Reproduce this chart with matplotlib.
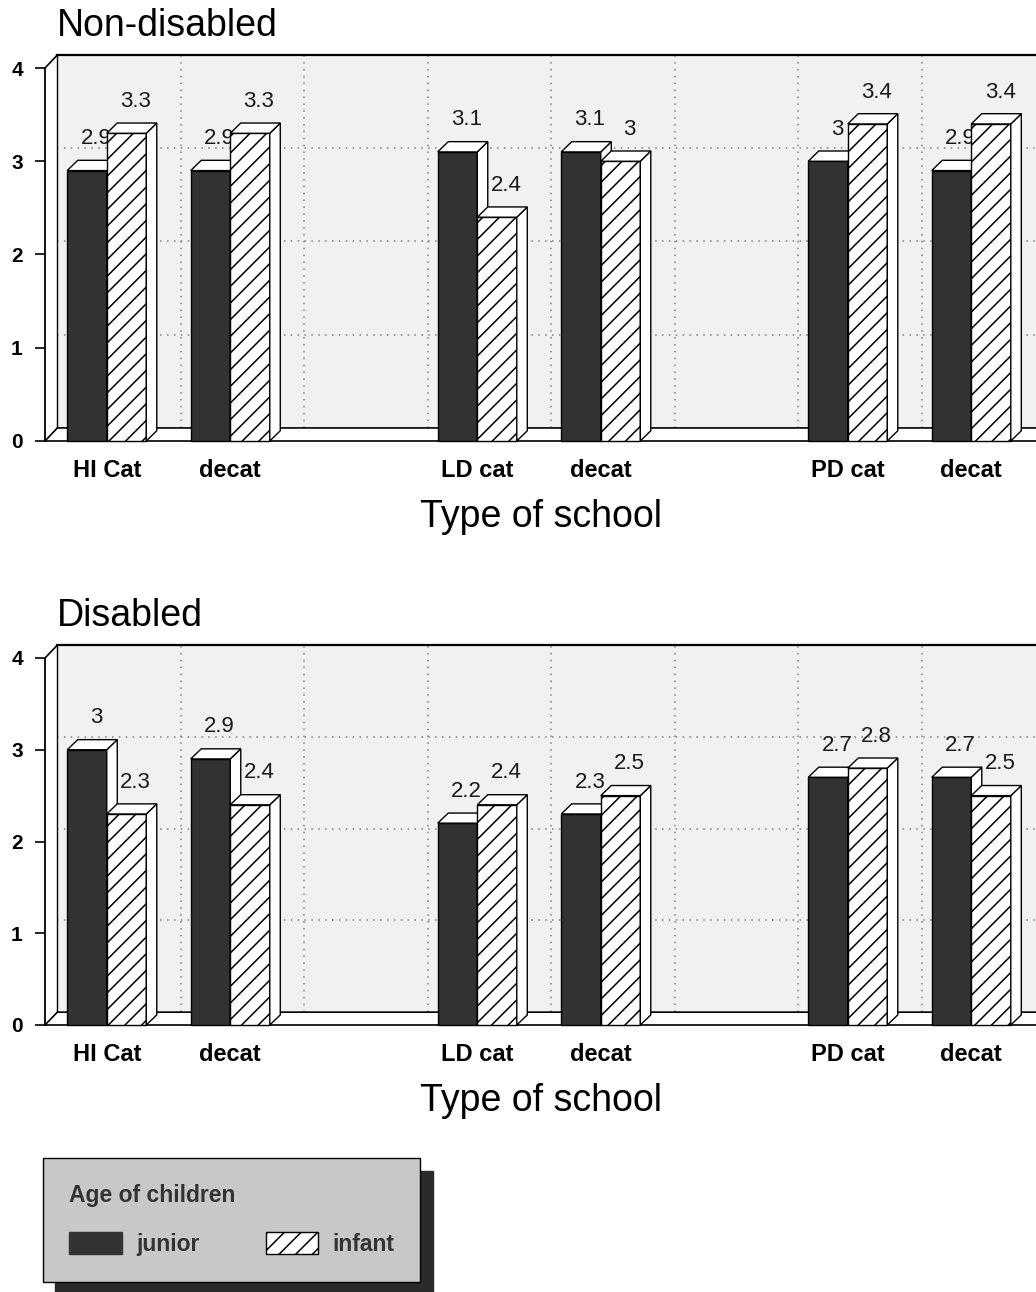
import matplotlib
matplotlib.use("Agg")
import matplotlib.pyplot as plt
from matplotlib.patches import Polygon, Rectangle, Patch
import numpy as np

plt.rcParams["font.family"] = ["Liberation Sans", "DejaVu Sans"]
plt.rcParams["hatch.linewidth"] = 1.1

# ---- data -------------------------------------------------------------
categories = ["HI Cat", "decat", "LD cat", "decat", "PD cat", "decat"]
positions = [0, 1, 3, 4, 6, 7]
series_names = ["junior", "infant"]
nondisabled_junior = [2.9, 2.9, 3.1, 3.1, 3.0, 2.9]
nondisabled_infant = [3.3, 3.3, 2.4, 3.0, 3.4, 3.4]
disabled_junior = [3.0, 2.9, 2.2, 2.3, 2.7, 2.7]
disabled_infant = [2.3, 2.4, 2.4, 2.5, 2.8, 2.5]
y_ticks = [0, 1, 2, 3, 4]
panel_titles = ["Non-disabled", "Disabled"]
x_title = "Type of school"
legend_title = "Age of children"

# ---- styling ----------------------------------------------------------
W, H = 1036, 1292
JUNIOR_COLOR = "#323232"
WALL_COLOR = "#f1f1f1"
BAR_W = 0.32
DEPTH_X, DEPTH_Y = 0.085, 0.11      # extrusion of each bar
WALL_X, WALL_Y = 0.10, 0.14         # offset of the back wall
X0, X1 = -0.5, 7.524
Y_TOP = 4.2
LEFT_PX = 45

fig = plt.figure(figsize=(W / 100, H / 100), dpi=100)


def add_box(ax, rect, z):
    """Top and right faces that give a bar its block look."""
    x, w, h = rect.get_x(), rect.get_width(), rect.get_height()
    top = Polygon([(x, h), (x + DEPTH_X, h + DEPTH_Y),
                   (x + w + DEPTH_X, h + DEPTH_Y), (x + w, h)],
                  closed=True, facecolor="white", edgecolor="black",
                  lw=1.0, zorder=z, clip_on=False)
    side = Polygon([(x + w, 0), (x + w + DEPTH_X, DEPTH_Y),
                    (x + w + DEPTH_X, h + DEPTH_Y), (x + w, h)],
                   closed=True, facecolor="white", edgecolor="black",
                   lw=1.0, zorder=z, clip_on=False)
    ax.add_patch(side)
    ax.add_patch(top)


def draw_panel(ax, junior, infant, title, zero_px, unit_px):
    ax.set_xlim(X0, X1)
    ax.set_ylim(0, Y_TOP)
    ax.patch.set_visible(False)
    for s in ("top", "right", "bottom"):
        ax.spines[s].set_visible(False)
    ax.spines["left"].set_bounds(0, 4)
    ax.spines["left"].set_linewidth(1.3)

    # back wall, left wall and floor
    ax.add_patch(Rectangle((X0 + WALL_X, WALL_Y), X1 - X0, 4,
                           facecolor=WALL_COLOR, edgecolor="none",
                           zorder=0, clip_on=False))
    ax.plot([X0 + WALL_X, X1 + 0.1], [4 + WALL_Y] * 2, color="black",
            lw=1.6, zorder=1, clip_on=False)
    ax.plot([X0, X0 + WALL_X], [4, 4 + WALL_Y], color="black", lw=1.2,
            zorder=1, clip_on=False)
    ax.plot([X0 + WALL_X] * 2, [WALL_Y, 4 + WALL_Y], color="black", lw=1.0,
            zorder=1, clip_on=False)
    for k in y_ticks[1:-1]:
        ax.plot([X0 + WALL_X, X1], [k + WALL_Y] * 2, color="#808080",
                lw=1.1, ls=(0, (1, 3.5)), zorder=0.5, clip_on=False)
    for m in np.arange(0.5, 7.0, 1.0):
        ax.plot([m + WALL_X] * 2, [WALL_Y, 4 + WALL_Y], color="#808080",
                lw=1.1, ls=(0, (1, 3.5)), zorder=0.5, clip_on=False)
    ax.add_patch(Polygon([(X0, 0), (X0 + WALL_X, WALL_Y), (X1 + 0.1, WALL_Y),
                          (X1 + 0.1, 0)], closed=True, facecolor="white",
                         edgecolor="black", lw=1.2, zorder=1, clip_on=False))

    pos = np.asarray(positions, dtype=float)
    jb = ax.bar(pos - BAR_W / 2, junior, BAR_W, color=JUNIOR_COLOR,
                edgecolor="black", lw=1.0, zorder=3, clip_on=False)
    for r in jb:
        add_box(ax, r, 3)
    ib = ax.bar(pos + BAR_W / 2, infant, BAR_W, facecolor="white",
                edgecolor="black", hatch="//", lw=1.0, zorder=5,
                clip_on=False)
    for r in ib:
        add_box(ax, r, 5)

    for bars, vals, z in ((jb, junior, 4), (ib, infant, 6)):
        for r, v in zip(bars, vals):
            ax.annotate(f"{v:g}", (r.get_x() + r.get_width() / 2, v),
                        xytext=(6.5, 23), textcoords="offset points",
                        ha="center", va="center", fontsize=16,
                        color="#1a1a1a", zorder=z)

    ax.set_yticks(y_ticks)
    ax.set_yticklabels([str(t) for t in y_ticks], fontsize=15,
                       fontweight="bold")
    ax.tick_params(axis="y", length=7, width=1.2, pad=9)
    ax.set_xticks(positions)
    ax.set_xticklabels(categories, fontsize=17, fontweight="bold")
    ax.tick_params(axis="x", length=0, pad=13)

    h_px = Y_TOP * unit_px
    ax.set_xlabel(x_title, fontsize=27)
    ax.xaxis.label.set_verticalalignment("center")
    ax.xaxis.set_label_coords(0.5, -76 / h_px)

    fig.text(57 / W, 1 - (zero_px - 4 * unit_px - 42) / H, title,
             fontsize=27, ha="left", va="center")


for (zero_px, unit_px), jun, inf, title in (
        ((441, 93.25), nondisabled_junior, nondisabled_infant, panel_titles[0]),
        ((1025, 91.75), disabled_junior, disabled_infant, panel_titles[1])):
    h_px = Y_TOP * unit_px
    ax = fig.add_axes([LEFT_PX / W, 1 - zero_px / H,
                       (W - LEFT_PX) / W, h_px / H])
    draw_panel(ax, jun, inf, title, zero_px, unit_px)

handles = [Patch(facecolor=JUNIOR_COLOR, edgecolor=JUNIOR_COLOR),
           Patch(facecolor="white", edgecolor="black", hatch="//")]
leg = fig.legend(handles, series_names, ncol=2, title=legend_title,
                 loc="lower left", bbox_to_anchor=(43 / W, 1 - 1282 / H),
                 borderaxespad=0, alignment="left", frameon=True,
                 fancybox=False, facecolor="#c8c8c8", edgecolor="black",
                 framealpha=1,
                 shadow={"ox": 9, "oy": -9, "facecolor": "#2b2b2b",
                         "edgecolor": "#2b2b2b", "alpha": 1},
                 prop={"size": 16.5, "weight": "bold"},
                 title_fontproperties={"size": 16.5, "weight": "bold"},
                 borderpad=1.15, handlelength=2.3, handleheight=1.15,
                 handletextpad=0.6, columnspacing=2.9, labelspacing=1.05)
for t in leg.get_texts():
    t.set_color("#333333")
leg.get_title().set_color("#333333")
leg.get_frame().set_linewidth(1.0)

fig.savefig("out.png", dpi=100)
